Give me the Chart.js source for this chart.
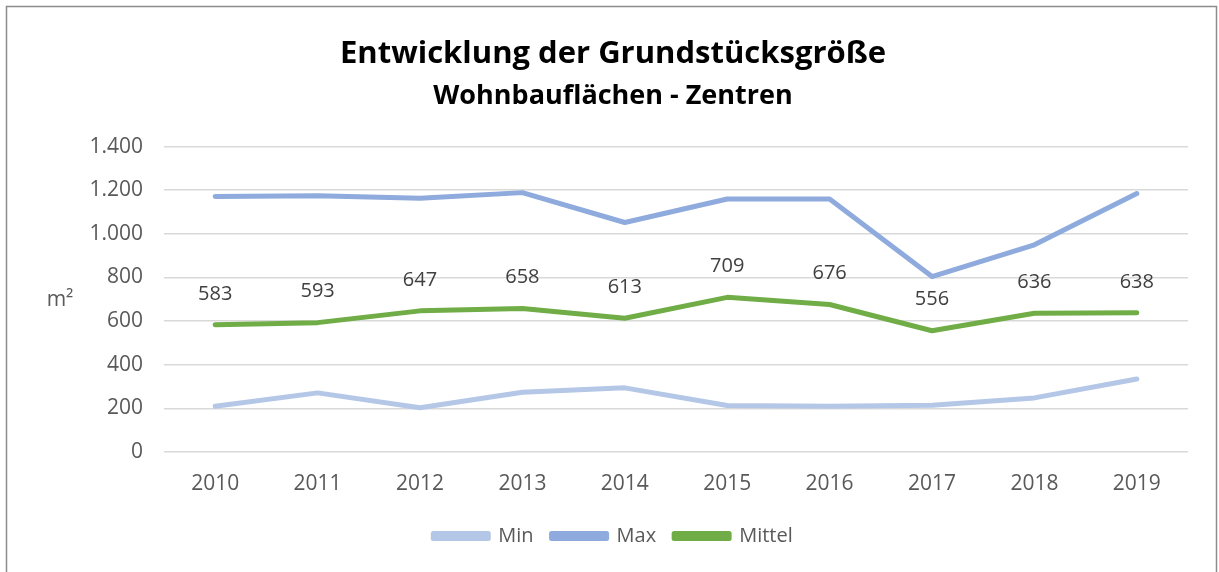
<!DOCTYPE html>
<html>
<head>
<meta charset="utf-8">
<script src="https://cdn.jsdelivr.net/npm/chart.js@4.4.1/dist/chart.umd.min.js"></script>
<style>
  html, body { margin: 0; padding: 0; background: #ffffff; }
  #wrap { position: relative; width: 1219px; height: 572px; }
</style>
</head>
<body>
<div id="wrap"><canvas id="c" width="1219" height="572"></canvas></div>
<script>
const years = ['2010','2011','2012','2013','2014','2015','2016','2017','2018','2019'];
const minValues = [210, 271, 203, 274, 294, 213, 210, 214, 248, 335];
const maxValues = [1171, 1175, 1163, 1189, 1052, 1160, 1160, 804, 950, 1185];
const mittelValues = [583, 593, 647, 658, 613, 709, 676, 556, 636, 638];
const titleText = 'Entwicklung der Grundstücksgröße';
const subtitleText = 'Wohnbauflächen - Zentren';
const yAxisLabel = 'm²';

const FONT = "'Open Sans', 'Noto Sans', sans-serif";

const extras = {
  id: 'extras',
  beforeDraw(chart) {
    const ctx = chart.ctx;
    ctx.save();
    ctx.fillStyle = '#ffffff';
    ctx.fillRect(0, 0, chart.width, chart.height);
    ctx.strokeStyle = '#8c8c8c';
    ctx.lineWidth = 1.5;
    ctx.strokeRect(6.5, 6.5, 1210, 580);
    ctx.restore();
  },
  afterDatasetsDraw(chart) {
    const ctx = chart.ctx;
    ctx.save();
    const yScale = chart.scales.y;
    ctx.font = "21px " + FONT;
    ctx.fillStyle = '#595959';
    ctx.textAlign = 'center';
    ctx.textBaseline = 'middle';
    ctx.fillText(yAxisLabel, 60, (yScale.top + yScale.bottom) / 2 + 1);
    const meta = chart.getDatasetMeta(2);
    ctx.font = "20px " + FONT;
    ctx.fillStyle = '#404040';
    meta.data.forEach((pt, i) => {
      ctx.fillText(String(mittelValues[i]), pt.x, pt.y - 31);
    });
    ctx.restore();
  }
};

new Chart(document.getElementById('c'), {
  type: 'line',
  data: {
    labels: years,
    datasets: [
      { label: 'Min', data: minValues, borderColor: '#b4c7e7', backgroundColor: '#b4c7e7' },
      { label: 'Max', data: maxValues, borderColor: '#8faadc', backgroundColor: '#8faadc' },
      { label: 'Mittel', data: mittelValues, borderColor: '#70ad47', backgroundColor: '#70ad47' }
    ]
  },
  options: {
    responsive: false,
    animation: false,
    devicePixelRatio: 1,
    layout: { padding: { left: 38, right: 31, top: 0, bottom: 16 } },
    elements: {
      line: { borderWidth: 5, tension: 0, borderCapStyle: 'round', borderJoinStyle: 'round' },
      point: { radius: 0, hoverRadius: 0 }
    },
    scales: {
      x: {
        offset: true,
        grid: { display: false, drawTicks: false },
        border: { display: false },
        ticks: { color: '#595959', font: { family: FONT, size: 21 }, padding: 19, maxRotation: 0 },
        afterFit(scale) { scale.height = 56; }
      },
      y: {
        min: 0, max: 1400,
        grid: { color: '#d9d9d9', lineWidth: 1.5, drawTicks: false },
        border: { display: false },
        ticks: {
          stepSize: 200,
          color: '#595959',
          font: { family: FONT, size: 21 },
          padding: 21,
          callback: (v) => v.toLocaleString('de-DE')
        },
        afterFit(scale) { scale.width = 126; }
      }
    },
    plugins: {
      title: {
        display: true, text: titleText, color: '#000000',
        font: { family: FONT, size: 31, weight: 'bold' },
        padding: { top: 36, bottom: 7 }
      },
      subtitle: {
        display: true, text: subtitleText, color: '#000000',
        font: { family: FONT, size: 27, weight: 'bold' },
        padding: { top: 0, bottom: 34 }
      },
      legend: {
        position: 'bottom',
        labels: {
          color: '#595959',
          font: { family: FONT, size: 20 },
          boxWidth: 55, boxHeight: 5,
          padding: 18
        }
      },
      tooltip: { enabled: false }
    }
  },
  plugins: [extras]
});
</script>
</body>
</html>
